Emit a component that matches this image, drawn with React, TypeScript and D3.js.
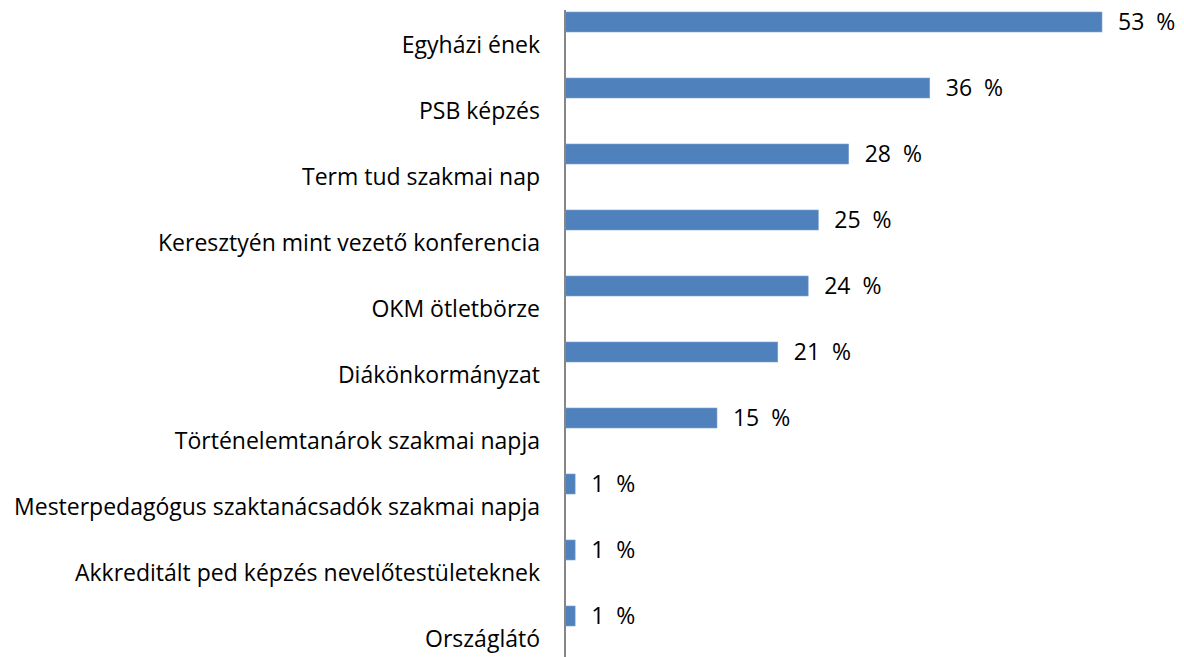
import * as d3 from 'd3';
import React from 'react';

// chart data
const categories = [
  'Egyházi ének',
  'PSB képzés',
  'Term tud szakmai nap',
  'Keresztyén mint vezető konferencia',
  'OKM ötletbörze',
  'Diákönkormányzat',
  'Történelemtanárok szakmai napja',
  'Mesterpedagógus szaktanácsadók szakmai napja',
  'Akkreditált ped képzés nevelőtestületeknek',
  'Országlátó',
];
const values = [53, 36, 28, 25, 24, 21, 15, 1, 1, 1];

const width = 1184;
const height = 657;
const axisX = 565;

function App() {
  const x = d3.scaleLinear().domain([0, 53]).range([axisX, 1102]);
  const y = d3.scaleBand<string>().domain(categories).range([12, 672]).padding(0);
  const barH = 20;
  const font = "'Open Sans', sans-serif";

  return (
    <svg
      width={width}
      height={height}
      style={{ position: 'absolute', left: 0, top: 0, background: '#fff' }}
    >
      {categories.map((c, i) => (
        <g key={c}>
          <rect
            x={x(0)}
            y={y(c)}
            width={x(values[i]) - x(0)}
            height={barH}
            fill="#4f81bd"
            stroke="#7fa3d1"
            strokeWidth={0.6}
          />
          <text
            x={x(values[i]) + 16}
            y={y(c)! + barH / 2}
            dy="0.35em"
            fontFamily={font}
            fontSize={23}
            fill="#000"
            style={{ whiteSpace: 'pre' }}
          >
            {`${values[i]}  %`}
          </text>
          <text
            x={axisX - 25}
            y={y(c)! + y.bandwidth() / 2}
            dy="0.35em"
            textAnchor="end"
            fontFamily={font}
            fontSize={23}
            fill="#000"
          >
            {c}
          </text>
        </g>
      ))}
      <line x1={axisX} x2={axisX} y1={10} y2={height} stroke="#868686" strokeWidth={2} />
    </svg>
  );
}

export default App;
